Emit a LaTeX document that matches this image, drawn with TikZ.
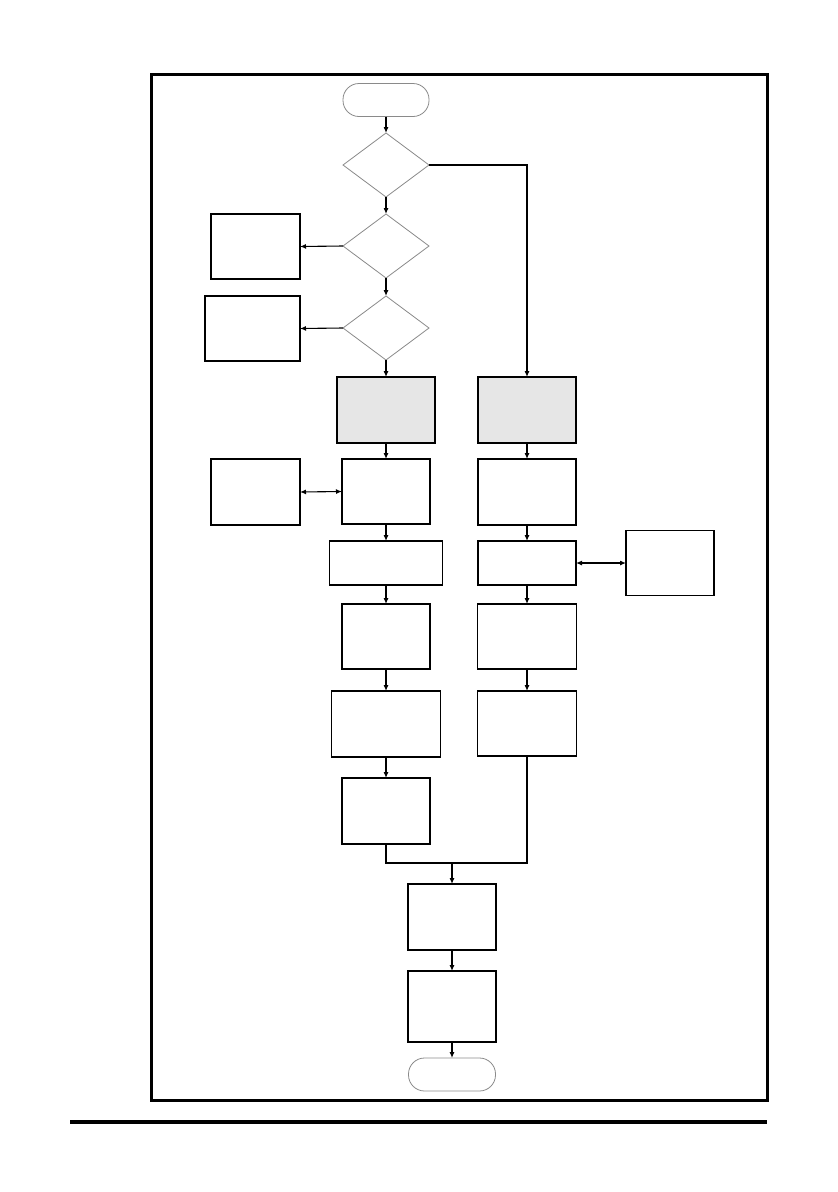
\documentclass[tikz,border=0pt]{standalone}
\usetikzlibrary{shapes.geometric,arrows.meta}
\definecolor{boxgray}{HTML}{E6E6E6}
\definecolor{linegray}{HTML}{8A8A8A}
\tikzset{
  box/.style={draw=black,line width=1.1pt,rectangle,inner sep=0pt,outer sep=0pt},
  shaded/.style={box,fill=boxgray},
  decision/.style={draw=linegray,line width=0.8pt,diamond,inner sep=0pt,outer sep=0pt,minimum width=86pt,minimum height=64pt},
  terminal/.style={draw=linegray,line width=0.8pt,rectangle,rounded corners=16pt,inner sep=0pt,outer sep=0pt,minimum width=86pt,minimum height=33pt},
  flow/.style={line width=1.1pt,-{Latex[length=6pt,width=5pt]}},
  biflow/.style={line width=1.1pt,{Latex[length=6pt,width=5pt]}-{Latex[length=6pt,width=5pt]}},
  plain/.style={line width=1.1pt}
}
\begin{document}
\begin{tikzpicture}[x=1pt,y=-1pt]
\useasboundingbox (0,0) rectangle (838,1192);
% page frame and rule
\draw[line width=3pt] (151,74) rectangle (767,1100);
\draw[line width=3.5pt] (70,1122) -- (767,1122);
% nodes
\node[terminal] (start) at (386,100) {};
\node[decision] (d1) at (386,165) {};
\node[decision] (d2) at (386,246) {};
\node[decision] (d3) at (386,328) {};
\node[box,minimum width=89pt,minimum height=65pt] (l1) at (255.5,246.5) {};
\node[box,minimum width=95pt,minimum height=65pt] (l2) at (252.5,328.5) {};
\node[shaded,minimum width=98pt,minimum height=66pt] (g1) at (386,410) {};
\node[shaded,minimum width=98pt,minimum height=66pt] (g2) at (527,410) {};
\node[box,minimum width=89pt,minimum height=66pt] (l3) at (255.5,492) {};
\node[box,minimum width=88pt,minimum height=65pt] (m2) at (386,491.5) {};
\node[box,minimum width=98pt,minimum height=66pt] (r2) at (527,492) {};
\node[box,minimum width=113pt,minimum height=44pt] (m3) at (386,563) {};
\node[box,minimum width=98pt,minimum height=44pt] (r3) at (527,563) {};
\node[box,minimum width=88pt,minimum height=65pt] (fr) at (670,563) {};
\node[box,minimum width=88pt,minimum height=65pt] (m4) at (386,636.5) {};
\node[box,minimum width=99pt,minimum height=65pt] (r4) at (527,636.5) {};
\node[box,minimum width=109pt,minimum height=66pt] (m5) at (386,724) {};
\node[box,minimum width=99pt,minimum height=65pt] (r5) at (527,723.5) {};
\node[box,minimum width=88pt,minimum height=66pt] (m6) at (386,811) {};
\node[box,minimum width=88pt,minimum height=66pt] (b7) at (452,917) {};
\node[box,minimum width=88pt,minimum height=71pt] (b8) at (452,1006.5) {};
\node[terminal,minimum width=87pt] (end) at (452,1074.5) {};
\coordinate (mj) at (452,863);
% connectors
\draw[flow] (start) -- (d1);
\draw[flow] (d1) -- (d2);
\draw[flow] (d2) -- (d3);
\draw[flow] (d3) -- (g1);
\draw[flow] (d2.west) -- (l1.east);
\draw[flow] (d3.west) -- (l2.east);
\draw[flow] (d1.east) -| (g2.north);
\draw[flow] (g1) -- (m2);
\draw[flow] (m2) -- (m3);
\draw[flow] (m3) -- (m4);
\draw[flow] (m4) -- (m5);
\draw[flow] (m5) -- (m6);
\draw[flow] (g2) -- (r2);
\draw[flow] (r2) -- (r3);
\draw[flow] (r3) -- (r4);
\draw[flow] (r4) -- (r5);
\draw[biflow] (l3.east) -- (m2.west);
\draw[biflow] (r3.east) -- (fr.west);
\draw[plain] (m6.south) |- (r5.south |- mj) -- (r5.south);
\draw[flow] (mj) -- (b7.north);
\draw[flow] (b7) -- (b8);
\draw[flow] (b8) -- (end);
\end{tikzpicture}
\end{document}
